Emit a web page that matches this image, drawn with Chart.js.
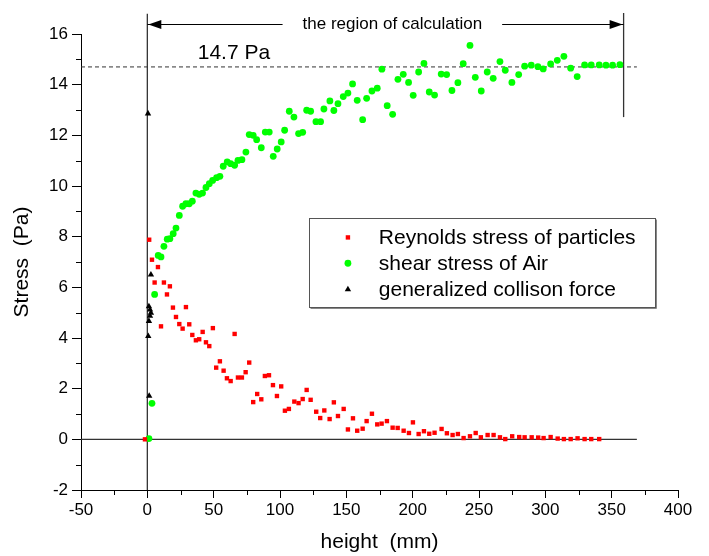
<!DOCTYPE html>
<html>
<head>
<meta charset="utf-8">
<script src="https://cdn.jsdelivr.net/npm/chart.js@4/dist/chart.umd.min.js"></script>
<style>
html,body{margin:0;padding:0;background:#fff;}
#wrap{width:709px;height:556px;}
</style>
</head>
<body>
<div id="wrap"><canvas id="c" width="709" height="556"></canvas></div>
<script>
// ---- data ----
const reynoldsX = [-1.8,1.4,3.5,5.5,8.0,10.3,12.5,14.8,17.0,19.3,21.6,24.1,26.6,29.1,31.6,33.9,36.6,39.1,41.7,44.2,46.7,49.4,51.9,54.7,57.5,60.0,62.8,65.8,68.3,71.3,74.1,76.8,79.8,82.8,85.9,88.6,91.7,94.7,97.7,100.9,103.7,106.7,110.8,114.0,117.1,120.1,123.1,127.3,130.3,133.4,137.4,140.6,143.7,148.0,151.2,155.0,158.2,162.3,165.3,169.3,173.3,176.6,180.6,184.9,188.7,193.2,197.2,200.2,204.5,208.5,212.5,216.5,221.8,225.8,230.1,234.1,238.4,243.2,247.5,251.4,256.5,261.0,265.8,269.8,275.0,280.3,284.4,289.7,294.6,298.7,304.0,309.3,314.0,319.1,324.3,329.6,334.6,340.6];
const reynoldsY = [0,7.88,7.09,6.19,6.80,4.46,6.19,5.72,6.04,5.20,4.83,4.55,4.37,5.22,4.54,4.12,3.91,3.95,4.24,3.83,3.68,4.39,2.83,3.08,2.71,2.41,2.30,4.16,2.44,2.44,2.65,3.03,1.47,1.79,1.58,2.50,2.53,2.14,1.71,2.09,1.13,1.20,1.49,1.43,1.59,1.95,1.56,1.09,0.84,1.14,0.80,1.46,0.92,1.20,0.39,0.83,0.34,0.42,0.72,1.01,0.59,0.62,0.72,0.46,0.45,0.34,0.25,0.67,0.21,0.32,0.22,0.26,0.41,0.24,0.17,0.21,0.05,0.12,0.25,0.08,0.17,0.17,0.08,0.01,0.12,0.09,0.08,0.08,0.07,0.05,0.09,0.03,0.01,0.01,0.04,0.01,0.01,0.01];

const airX = [1.2,3.5,5.5,8.2,10.3,12.5,15.0,17.0,19.5,21.6,24.1,26.6,29.1,31.6,33.9,36.6,39.1,41.6,44.2,46.7,49.2,52.2,54.7,57.2,60.2,62.8,65.8,68.3,71.3,74.3,76.8,79.8,82.4,85.9,88.9,91.9,94.9,97.9,100.9,103.5,107.0,110.5,114.0,117.1,120.1,123.1,127.1,130.6,133.1,137.6,140.6,143.7,147.7,151.2,154.7,158.2,162.3,165.3,169.3,173.3,176.8,180.8,184.9,188.9,192.9,196.9,200.4,204.5,208.5,212.5,216.5,221.5,225.6,229.6,234.1,238.1,243.2,247.2,251.7,256.2,260.7,265.8,269.8,274.8,279.9,284.4,289.4,294.4,298.4,304.0,309.0,314.0,319.1,324.0,329.6,334.6,340.6,345.7,350.7,356.2];
const airY = [0.03,1.42,5.72,7.26,7.20,7.62,7.90,7.92,8.12,8.34,8.84,9.20,9.30,9.30,9.40,9.72,9.67,9.72,9.94,10.09,10.22,10.33,10.38,10.78,10.95,10.88,10.82,11.01,11.04,11.34,12.03,12.00,11.83,11.51,12.13,12.13,11.17,11.46,11.74,12.20,12.95,12.72,12.07,12.12,12.99,12.95,12.54,12.54,13.04,13.36,12.98,13.25,13.53,13.67,14.03,13.38,12.62,13.46,13.75,13.86,14.61,13.17,12.83,14.21,14.41,14.09,13.58,14.50,14.84,13.71,13.59,14.42,14.40,13.77,14.08,14.83,15.55,14.29,13.75,14.50,14.25,14.91,14.57,14.09,14.40,14.73,14.77,14.71,14.62,14.82,14.96,15.12,14.65,14.32,14.78,14.78,14.78,14.77,14.77,14.79];

const collisionX = [0.5,2.7,1.2,2.0,2.7,2.0,1.2,0.7,1.4];
const collisionY = [12.86,6.50,5.25,5.12,4.99,4.87,4.67,4.07,1.71];

const seriesNames = ['Reynolds stress of particles','shear stress of Air','generalized collison force'];
const xTitle = 'height  (mm)';
const yTitle = 'Stress  (Pa)';
const regionLabel = 'the region of calculation';
const levelLabel = '14.7 Pa';
const levelValue = 14.7;
const regionStart = 0;
const regionEnd = 359;

// ---- build ----
const pts = (xs, ys) => xs.map((x, i) => ({x: x, y: ys[i]}));
const FONT = '"Liberation Sans", Arial, sans-serif';

const overlay = {
  id: 'overlay',
  beforeDatasetsDraw(chart) {
    const {ctx, scales: {x, y}} = chart;
    ctx.save();
    ctx.strokeStyle = '#333';
    ctx.lineWidth = 1.3;
    ctx.beginPath();
    ctx.moveTo(x.getPixelForValue(-50), y.getPixelForValue(0));
    ctx.lineTo(x.getPixelForValue(369), y.getPixelForValue(0));
    ctx.stroke();
    ctx.beginPath();
    ctx.moveTo(x.getPixelForValue(regionStart), y.getPixelForValue(16.8));
    ctx.lineTo(x.getPixelForValue(regionStart), y.getPixelForValue(-2));
    ctx.stroke();
    ctx.beginPath();
    ctx.moveTo(x.getPixelForValue(regionEnd), y.getPixelForValue(16.83));
    ctx.lineTo(x.getPixelForValue(regionEnd), y.getPixelForValue(12.72));
    ctx.stroke();
    ctx.lineWidth = 1;
    ctx.setLineDash([4, 3]);
    ctx.beginPath();
    ctx.moveTo(x.getPixelForValue(-50), y.getPixelForValue(levelValue));
    ctx.lineTo(x.getPixelForValue(369), y.getPixelForValue(levelValue));
    ctx.stroke();
    ctx.setLineDash([]);
    ctx.restore();
  },
  afterDraw(chart) {
    const {ctx, scales: {x, y}} = chart;
    ctx.save();
    ctx.strokeStyle = '#000';
    ctx.lineWidth = 1;
    for (let v = -25; v < 400; v += 50) {
      const px = Math.round(x.getPixelForValue(v)) + 0.5;
      ctx.beginPath();
      ctx.moveTo(px, y.bottom);
      ctx.lineTo(px, y.bottom + 5);
      ctx.stroke();
    }
    for (let v = -1; v < 16; v += 2) {
      const py = Math.round(y.getPixelForValue(v)) + 0.5;
      ctx.beginPath();
      ctx.moveTo(x.left - 5, py);
      ctx.lineTo(x.left, py);
      ctx.stroke();
    }
    const ay = Math.round(y.getPixelForValue(16.4)) + 0.5;
    const x0 = x.getPixelForValue(regionStart);
    const x1 = x.getPixelForValue(regionEnd);
    ctx.font = '17px ' + FONT;
    ctx.fillStyle = '#000';
    ctx.textAlign = 'center';
    ctx.textBaseline = 'middle';
    const cx = x.getPixelForValue(184.7);
    const tw = ctx.measureText(regionLabel).width;
    ctx.fillText(regionLabel, cx, ay);
    const gap = tw / 2 + 20;
    ctx.beginPath();
    ctx.moveTo(x0, ay); ctx.lineTo(cx - gap, ay);
    ctx.moveTo(cx + gap, ay); ctx.lineTo(x1, ay);
    ctx.stroke();
    ctx.beginPath();
    ctx.moveTo(x0 + 1, ay); ctx.lineTo(x0 + 14, ay - 4.5); ctx.lineTo(x0 + 14, ay + 4.5); ctx.closePath();
    ctx.fill();
    ctx.beginPath();
    ctx.moveTo(x1 - 1, ay); ctx.lineTo(x1 - 14, ay - 4.5); ctx.lineTo(x1 - 14, ay + 4.5); ctx.closePath();
    ctx.fill();
    ctx.font = '21px ' + FONT;
    ctx.textAlign = 'left';
    ctx.fillText(levelLabel, x.getPixelForValue(38), y.getPixelForValue(15.24));
    const lx0 = Math.round(x.getPixelForValue(121.8)) + 0.5;
    const lx1 = Math.round(x.getPixelForValue(382.6)) + 0.5;
    const ly0 = Math.round(y.getPixelForValue(8.72)) + 0.5;
    const ly1 = Math.round(y.getPixelForValue(5.21)) + 0.5;
    ctx.fillStyle = '#fff';
    ctx.fillRect(lx0, ly0, lx1 - lx0, ly1 - ly0);
    ctx.strokeStyle = '#555';
    ctx.lineWidth = 1;
    ctx.strokeRect(lx0, ly0, lx1 - lx0, ly1 - ly0);
    ctx.strokeStyle = '#888';
    ctx.beginPath();
    ctx.moveTo(lx1 + 1, ly0 + 1); ctx.lineTo(lx1 + 1, ly1 + 1); ctx.lineTo(lx0 + 1, ly1 + 1);
    ctx.stroke();
    const mx = x.getPixelForValue(151.2);
    const tx = x.getPixelForValue(174.5);
    const rows = [7.97, 6.95, 5.92].map(v => y.getPixelForValue(v));
    ctx.font = '21px ' + FONT;
    ctx.textBaseline = 'middle';
    ctx.textAlign = 'left';
    ctx.fillStyle = '#ff0000';
    ctx.fillRect(mx - 2.2, rows[0] - 2.2, 4.4, 4.4);
    ctx.fillStyle = '#00ff00';
    ctx.beginPath(); ctx.arc(mx, rows[1], 3.4, 0, Math.PI * 2); ctx.fill();
    ctx.fillStyle = '#000';
    ctx.beginPath();
    ctx.moveTo(mx, rows[2] - 3.6); ctx.lineTo(mx + 3.2, rows[2] + 2); ctx.lineTo(mx - 3.2, rows[2] + 2); ctx.closePath();
    ctx.fill();
    ctx.fillStyle = '#000';
    seriesNames.forEach((n, i) => ctx.fillText(n, tx, rows[i] + 1));
    ctx.restore();
  }
};

new Chart(document.getElementById('c'), {
  type: 'scatter',
  data: {
    datasets: [
      {label: seriesNames[0], data: pts(reynoldsX, reynoldsY), pointStyle: 'rect', pointRadius: 3.1, backgroundColor: '#ff0000', borderWidth: 0, showLine: false},
      {label: seriesNames[1], data: pts(airX, airY), pointStyle: 'circle', pointRadius: 3.4, backgroundColor: '#00ff00', borderWidth: 0, showLine: false},
      {label: seriesNames[2], data: pts(collisionX, collisionY), pointStyle: 'triangle', pointRadius: 3.7, backgroundColor: '#000', borderWidth: 0, showLine: false}
    ]
  },
  options: {
    responsive: false,
    animation: false,
    events: [],
    clip: false,
    layout: {padding: {top: 34, right: 31, left: 0, bottom: 0}},
    plugins: {legend: {display: false}, tooltip: {enabled: false}},
    scales: {
      x: {
        type: 'linear', min: -50, max: 400,
        ticks: {stepSize: 50, color: '#000', font: {family: FONT, size: 17}, padding: 2, maxRotation: 0},
        grid: {drawOnChartArea: false, drawTicks: true, tickLength: 8, color: '#000'},
        border: {display: true, color: '#000', width: 1},
        title: {display: true, text: xTitle, color: '#000', font: {family: FONT, size: 21}, padding: {top: 0, bottom: 1}},
        afterFit(s) { s.height = 66; }
      },
      y: {
        type: 'linear', min: -2, max: 16,
        ticks: {stepSize: 2, color: '#000', font: {family: FONT, size: 17}, padding: 4},
        grid: {drawOnChartArea: false, drawTicks: true, tickLength: 9, color: '#000'},
        border: {display: true, color: '#000', width: 1},
        title: {display: true, text: yTitle, color: '#000', font: {family: FONT, size: 21}, padding: {top: 10, bottom: 0}},
        afterFit(s) { s.width = 81; }
      }
    }
  },
  plugins: [overlay]
});
</script>
</body>
</html>
